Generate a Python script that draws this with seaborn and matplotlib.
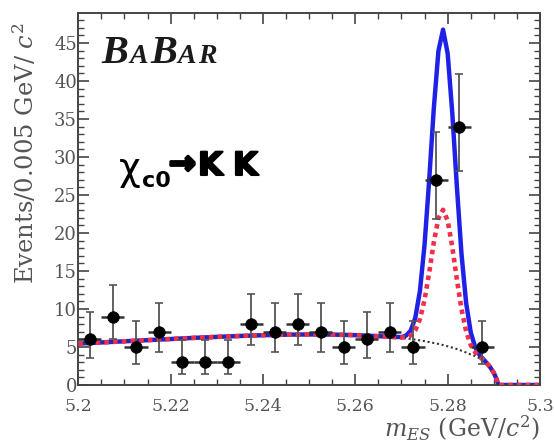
import numpy as np
import pandas as pd
import matplotlib
matplotlib.use("Agg")
import matplotlib.pyplot as plt
import matplotlib.patheffects as pe
from matplotlib import font_manager
from matplotlib.ticker import MultipleLocator, FixedLocator
import seaborn as sns

# ---------------- data ----------------
bin_centers = [5.2025, 5.2075, 5.2125, 5.2175, 5.2225, 5.2275, 5.2325, 5.2375, 5.2425,
               5.2475, 5.2525, 5.2575, 5.2625, 5.2675, 5.2725, 5.2775, 5.2825, 5.2875]
events = [6, 9, 5, 7, 3, 3, 3, 8, 7, 8, 7, 5, 6, 7, 5, 27, 34, 5]
err_low = [2.4, 2.9, 2.2, 2.6, 1.6, 1.6, 1.6, 2.8, 2.6, 2.8, 2.6, 2.2, 2.4, 2.6, 2.2, 5.2, 5.8, 2.2]
err_high = [3.6, 4.1, 3.4, 3.8, 2.9, 2.9, 2.9, 4.0, 3.8, 4.0, 3.8, 3.4, 3.6, 3.8, 3.4, 6.3, 6.9, 3.4]
bin_half_width = 0.0025

# fit curves
curve_x = [5.200, 5.205, 5.210, 5.215, 5.220, 5.225, 5.230, 5.235, 5.240, 5.245, 5.250,
           5.255, 5.260, 5.265,
           5.270, 5.271, 5.272, 5.273, 5.274, 5.275, 5.276, 5.277, 5.278, 5.279, 5.280,
           5.281, 5.282, 5.283, 5.284, 5.285, 5.286, 5.287, 5.288, 5.289, 5.290,
           5.2905, 5.291, 5.295, 5.300]
background = [5.45, 5.6, 5.75, 5.9, 6.05, 6.2, 6.33, 6.45, 6.55, 6.62, 6.65,
              6.63, 6.56, 6.42,
              6.2, 6.13, 6.05, 5.96, 5.87, 5.77, 5.65, 5.53, 5.40, 5.25, 5.09,
              4.92, 4.73, 4.51, 4.27, 4.01, 3.80, 3.50, 3.10, 2.50, 1.60,
              0.9, 0.0, 0.0, 0.0]
total_fit = [5.45, 5.6, 5.75, 5.9, 6.05, 6.2, 6.33, 6.45, 6.55, 6.62, 6.65,
             6.63, 6.56, 6.42,
             6.30, 6.50, 7.16, 8.86, 12.40, 18.48, 26.98, 36.40, 43.94, 46.75, 43.63,
             35.79, 26.06, 17.22, 10.80, 6.91, 4.91, 3.87, 3.20, 2.53, 1.60,
             0.9, 0.0, 0.0, 0.0]
partial_fit = [5.45, 5.6, 5.75, 5.9, 6.05, 6.2, 6.33, 6.45, 6.55, 6.62, 6.65,
               6.63, 6.56, 6.42,
               6.24, 6.29, 6.52, 7.20, 8.67, 11.22, 14.80, 18.77, 21.93, 23.05, 21.62,
               18.16, 13.88, 9.96, 7.07, 5.25, 4.27, 3.66, 3.14, 2.51, 1.60,
               0.9, 0.0, 0.0, 0.0]

x_ticks = [5.2, 5.22, 5.24, 5.26, 5.28, 5.3]
x_tick_labels = ["5.2", "5.22", "5.24", "5.26", "5.28", "5.3"]
y_ticks = [0, 5, 10, 15, 20, 25, 30, 35, 40, 45]
y_tick_labels = [str(v) for v in y_ticks]

# ---------------- figure ----------------
sns.set_style("ticks")
plt.rcParams["font.family"] = ["DejaVu Serif"]
plt.rcParams["mathtext.fontset"] = "dejavuserif"

available = {f.name for f in font_manager.fontManager.ttflist}
logo_family = "Liberation Serif" if "Liberation Serif" in available else "DejaVu Serif"

W, H = 554, 444
fig = plt.figure(figsize=(W / 100, H / 100), dpi=100)
ax = fig.add_axes([78.3 / W, (H - 385) / H, (540 - 78.3) / W, (385 - 13.3) / H])


def px(x, y):
    return x / W, 1 - y / H


curves = pd.DataFrame({"m": curve_x, "bkg": background, "total": total_fit, "part": partial_fit})

sns.lineplot(data=curves, x="m", y="total", ax=ax, color="#1f22e6", lw=3.2,
             estimator=None, sort=False, zorder=2)
sns.lineplot(data=curves, x="m", y="bkg", ax=ax, color="#333333", lw=1.5,
             linestyle=(0, (1, 1.3)), estimator=None, sort=False, zorder=3)
sns.lineplot(data=curves, x="m", y="part", ax=ax, color="#f0304a", lw=3.3,
             linestyle=(0, (1, 0.9)), estimator=None, sort=False, zorder=4)

ax.errorbar(bin_centers, events, yerr=[err_low, err_high], fmt="none",
            ecolor="#555555", elinewidth=1.3, capsize=3, capthick=1.2, zorder=5)
ax.errorbar(bin_centers, events, xerr=bin_half_width, fmt="none",
            ecolor="#333333", elinewidth=1.8, zorder=5)
pts = pd.DataFrame({"m": bin_centers, "n": events})
sns.scatterplot(data=pts, x="m", y="n", ax=ax, color="black", s=70,
                edgecolor="black", linewidth=0.5, zorder=6)

ax.set_xlim(5.2, 5.3)
ax.set_ylim(0, 48.9)
ax.xaxis.set_major_locator(FixedLocator(x_ticks))
ax.set_xticklabels(x_tick_labels)
ax.xaxis.set_minor_locator(MultipleLocator(0.005))
ax.yaxis.set_major_locator(FixedLocator(y_ticks))
ax.set_yticklabels(y_tick_labels)
ax.yaxis.set_minor_locator(MultipleLocator(1))
ax.tick_params(which="both", direction="in", top=True, right=True, color="#444444")
ax.tick_params(which="major", length=8, width=1.2)
ax.tick_params(which="minor", length=4, width=1.0)
ax.tick_params(axis="x", which="major", labelsize=12.5, labelcolor="#555555", pad=9)
ax.tick_params(axis="y", which="major", labelsize=13, labelcolor="#555555", pad=1)
for s in ax.spines.values():
    s.set_color("#444444")
    s.set_linewidth(1.4)
ax.set_xlabel("")
ax.set_ylabel("")

fig.text(*px(25, 153), "Events/0.005 GeV/ $c^2$", rotation=90, ha="center", va="center",
         fontsize=17.5, color="#555555")
fig.text(*px(540, 437), "$m_{ES}$ (GeV/$c^2$)", ha="right", va="baseline",
         fontsize=17, color="#555555")

# BaBar logo
logo = [("B", 101, 29), ("A", 129, 20), ("B", 150, 29), ("A", 177, 20), ("R", 198, 20)]
for ch, xx, fs in logo:
    fig.text(*px(xx, 63), ch, ha="left", va="baseline", fontsize=fs,
             fontweight="bold", fontstyle="italic", family=logo_family,
             color="#1a1a1a")

# chi_c0 -> KK annotation
fig.text(*px(119, 180), "χ", ha="left", va="baseline", fontsize=27,
         family="DejaVu Sans", color="black")
fig.text(*px(142, 187), "c0", ha="left", va="baseline", fontsize=16,
         family="DejaVu Sans", fontweight="bold", color="black")
fig.text(*px(169, 165), "→", ha="left", va="center", fontsize=23,
         family="DejaVu Sans", fontweight="bold", color="black",
         path_effects=[pe.withStroke(linewidth=2.2, foreground="black")])
for xx in (198, 233):
    fig.text(*px(xx, 175), "K", ha="left", va="baseline", fontsize=23,
             family="DejaVu Sans", fontweight="bold", color="black",
             path_effects=[pe.withStroke(linewidth=1.5, foreground="black")])

fig.savefig("out.png", dpi=100)
